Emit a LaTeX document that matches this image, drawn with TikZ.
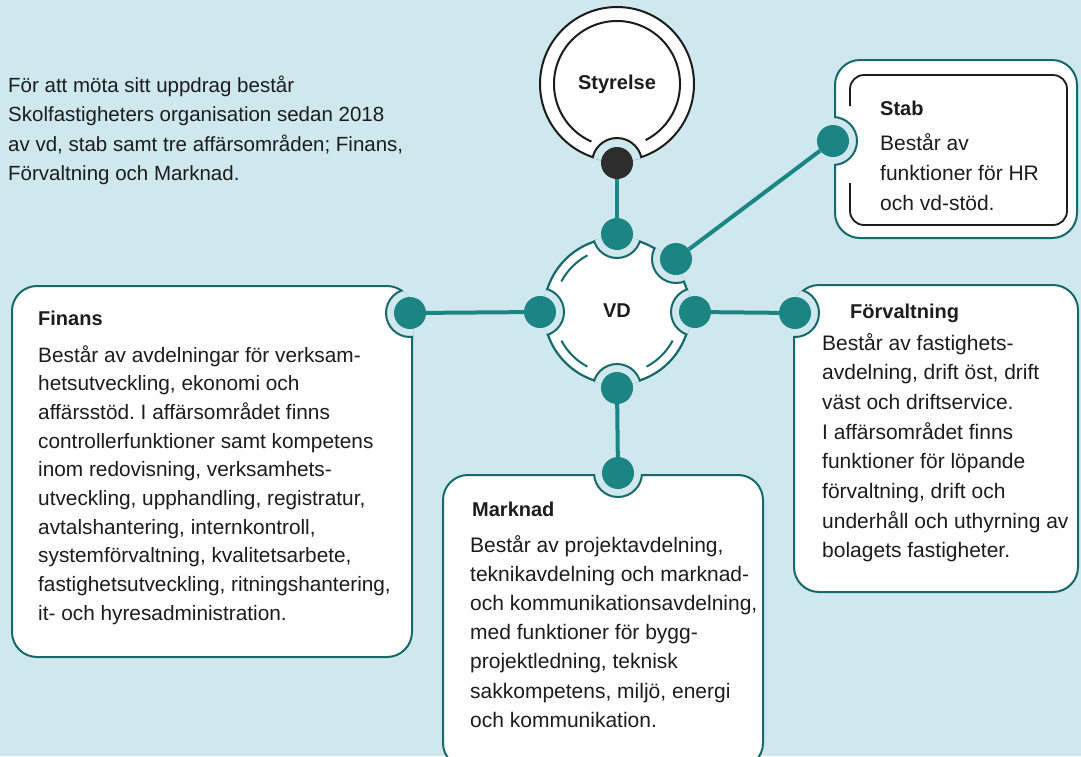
\documentclass[tikz,border=0pt]{standalone}
\usepackage{fontspec}
\setmainfont{Liberation Sans}
\frenchspacing

\definecolor{sky}{RGB}{206,232,238}
\definecolor{teal1}{RGB}{27,133,131}
\definecolor{rim}{RGB}{22,104,106}
\definecolor{ink}{RGB}{28,28,28}
\definecolor{coal}{RGB}{45,45,45}

\tikzset{
  knob/.style={circle,fill=teal1,minimum size=32pt,inner sep=0pt},
  link/.style={draw=teal1,line width=4pt},
  panel/.style={fill=white,draw=rim,line width=2pt,rounded corners=25pt},
  notch/.style={fill=sky,draw=rim,line width=2pt},
  head/.style={anchor=base west,inner sep=0pt,text=ink,font=\bfseries\fontsize{20}{24}\selectfont},
  % multi-line text is placed by the baseline of its last line
  txt/.style={anchor=base west,align=left,inner sep=0pt,text=ink},
}

\begin{document}
\begin{tikzpicture}[x=1pt,y=-1pt]
% backdrop
\fill[sky] (0,0) rectangle (1081,756);
\useasboundingbox (0,0) rectangle (1081,756);
\clip (0,0) rectangle (1081,756);

% the four panels
\draw[panel] (12,286) rectangle (412,657);   % Finans
\draw[panel] (835,60) rectangle (1077,238);  % Stab
\draw[panel] (794,285) rectangle (1078,592); % Förvaltning
\draw[panel] (443,475) rectangle (763,768);  % Marknad

% where the knobs sit
\coordinate (p-fin) at (410,313);
\coordinate (p-stab) at (833,141);
\coordinate (p-forv) at (795,313);
\coordinate (p-mark) at (618,473);
\coordinate (p-top) at (617,234);
\coordinate (p-ur) at (676,259);
\coordinate (p-right) at (695,312);
\coordinate (p-bottom) at (617,388);
\coordinate (p-left) at (540,312);

% notches cut into the panels
\begin{scope}
  \clip[rounded corners=26pt] (11,285) rectangle (413,658);
  \draw[notch] (p-fin) circle (24);
\end{scope}
\begin{scope}
  \clip[rounded corners=26pt] (834,59) rectangle (1078,239);
  \draw[notch] (p-stab) circle (24);
\end{scope}
\begin{scope}
  \clip[rounded corners=26pt] (793,284) rectangle (1079,593);
  \draw[notch] (p-forv) circle (24);
\end{scope}
\begin{scope}
  \clip[rounded corners=26pt] (442,474) rectangle (764,769);
  \draw[notch] (p-mark) circle (24);
\end{scope}

% inner frame of Stab, open at the notch
\draw[ink,line width=1.8pt,rounded corners=14pt]
  (850,106) -- (850,75) -- (1067,75) -- (1067,225) -- (850,225) -- (850,183);

% Styrelse ring
\draw[fill=white,draw=ink,line width=2pt] (617,84) circle (77);
\begin{scope}
  \clip (617,84) circle (78);
  \draw[fill=sky,draw=ink,line width=2pt] (617,163) circle (25);
\end{scope}
\draw[ink,line width=2pt] (617,84) ++(114:63) arc (114:423:63);

% VD hub
\draw[fill=white,draw=rim,line width=2.2pt] (617,311) circle (73);
\begin{scope}
  \clip (617,311) circle (74.2);
  \foreach \p in {p-top,p-ur,p-right,p-bottom,p-left}
    \draw[notch] (\p) circle (24);
\end{scope}
\foreach \s in {28,118,208}
  \draw[rim,line width=2pt] (617,311) ++(\s:63) arc (\s:\s+34:63);

% knobs
\node[knob,fill=coal] (s-knob) at (617,163) {};
\node[knob] (vd-top) at (p-top) {};
\node[knob] (vd-ur) at (p-ur) {};
\node[knob] (vd-right) at (p-right) {};
\node[knob] (vd-bottom) at (p-bottom) {};
\node[knob] (vd-left) at (p-left) {};
\node[knob] (fin-knob) at (p-fin) {};
\node[knob] (stab-knob) at (p-stab) {};
\node[knob] (forv-knob) at (p-forv) {};
\node[knob] (mark-knob) at (p-mark) {};

% links
\draw[link] (s-knob) -- (vd-top);
\draw[link] (vd-ur) -- (stab-knob);
\draw[link] (vd-left) -- (fin-knob);
\draw[link] (vd-right) -- (forv-knob);
\draw[link] (vd-bottom) -- (mark-knob);

% labels
\node[text=ink,font=\bfseries\fontsize{20}{24}\selectfont] (s-label) at (617,84) {Styrelse};
\node[text=ink,font=\bfseries\fontsize{20}{24}\selectfont] (vd-label) at (617,311) {VD};

\node[txt,font=\fontsize{20.5}{29.5}\selectfont] (intro) at (8,180.5)
  {För att möta sitt uppdrag består\\
   Skolfastigheters organisation sedan 2018\\
   av vd, stab samt tre affärsområden; Finans,\\
   Förvaltning och Marknad.};

\node[head] (fin-head) at (38,325) {Finans};
\node[txt,font=\fontsize{20.8}{28.7}\selectfont] (fin-text) at (38,620.3)
  {Består av avdelningar för verksam-\\
   hetsutveckling, ekonomi och\\
   affärsstöd. I affärsområdet finns\\
   controllerfunktioner samt kompetens\\
   inom redovisning, verksamhets-\\
   utveckling, upphandling, registratur,\\
   avtalshantering, internkontroll,\\
   systemförvaltning, kvalitetsarbete,\\
   fastighetsutveckling, ritningshantering,\\
   it- och hyresadministration.};

\node[head] (stab-head) at (880,115) {Stab};
\node[txt,font=\fontsize{21}{30}\selectfont] (stab-text) at (880,210)
  {Består av\\
   funktioner för HR\\
   och vd-stöd.};

\node[head] (forv-head) at (850,318) {Förvaltning};
\node[txt,font=\fontsize{21}{29.7}\selectfont] (forv-text) at (822,557.9)
  {Består av fastighets-\\
   avdelning, drift öst, drift\\
   väst och driftservice.\\
   I affärsområdet finns\\
   funktioner för löpande\\
   förvaltning, drift och\\
   underhåll och uthyrning av\\
   bolagets fastigheter.};

\node[head] (mark-head) at (472,516) {Marknad};
\node[txt,font=\fontsize{21}{29.2}\selectfont] (mark-text) at (470,727.2)
  {Består av projektavdelning,\\
   teknikavdelning och marknad-\\
   och kommunikationsavdelning,\\
   med funktioner för bygg-\\
   projektledning, teknisk\\
   sakkompetens, miljö, energi\\
   och kommunikation.};
\end{tikzpicture}
\end{document}
